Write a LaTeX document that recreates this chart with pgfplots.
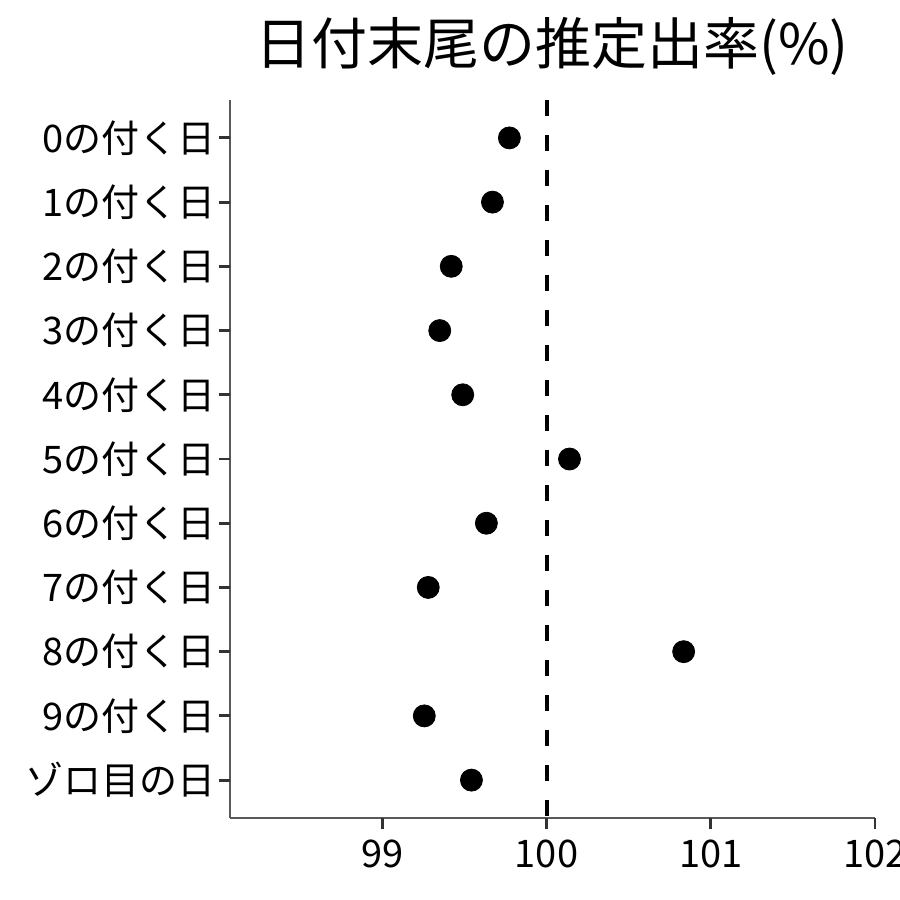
\documentclass[border=0pt]{standalone}
\usepackage{pgfplots}
\pgfplotsset{compat=1.18}
\usepackage{fontspec}
\setmainfont{Noto Sans CJK JP}

\begin{document}
\begin{tikzpicture}
\begin{axis}[
    at={(115bp,41bp)}, anchor=south west,
    scale only axis,
    width=322.5bp, height=359bp,
    xmin=98.073, xmax=102,
    ymin=0.41, ymax=11.59,
    y dir=reverse,
    axis x line*=bottom, axis y line*=left,
    axis line style={gray!70!black, line width=0.6bp, -},
    xtick={99,100,101,102},
    ytick={1,...,11},
    yticklabels={0の付く日,1の付く日,2の付く日,3の付く日,4の付く日,5の付く日,6の付く日,7の付く日,8の付く日,9の付く日,ゾロ目の日},
    tick align=outside,
    tickwidth=5.5bp,
    tick style={draw=black!80, line width=1.4bp},
    ticklabel style={font=\fontsize{19bp}{21bp}\selectfont},
    /pgf/number format/assume math mode=true,
    xticklabel style={yshift=-2bp},
    yticklabel style={xshift=2bp},
    clip=false,
]
\addplot[black, line width=2bp, dash pattern=on 8bp off 9.5bp]
  coordinates {(100,0.41) (100,11.59)};
\addplot[only marks, mark=*, mark size=5.5bp, black]
  coordinates {
    (99.774,1)
    (99.671,2)
    (99.420,3)
    (99.350,4)
    (99.490,5)
    (100.140,6)
    (99.634,7)
    (99.280,8)
    (100.835,9)
    (99.256,10)
    (99.543,11)
  };
% anchor points for the tick marks
\pgfplotsinvokeforeach{99,100,101,102}{
  \coordinate (tx#1) at (axis cs:#1,11.59);
}
\pgfplotsinvokeforeach{1,2,3,4,5,6,7,8,9,10,11}{
  \coordinate (ty#1) at (axis cs:98.073,#1);
}
\end{axis}
% tick marks, in canvas units
\foreach \v in {99,100,101,102}
  \draw[black!80, line width=1.4bp] (tx\v) -- ++(0,-5.5bp);
\foreach \k in {1,...,11}
  \draw[black!80, line width=1.4bp] (ty\k) -- ++(-5.5bp,0);
\node[font=\fontsize{28bp}{30bp}\selectfont] at (276bp,427bp) {日付末尾の推定出率(\%)};
\pgfresetboundingbox
\path[use as bounding box] (0,0) rectangle (450bp,450bp);
\end{tikzpicture}
\end{document}
